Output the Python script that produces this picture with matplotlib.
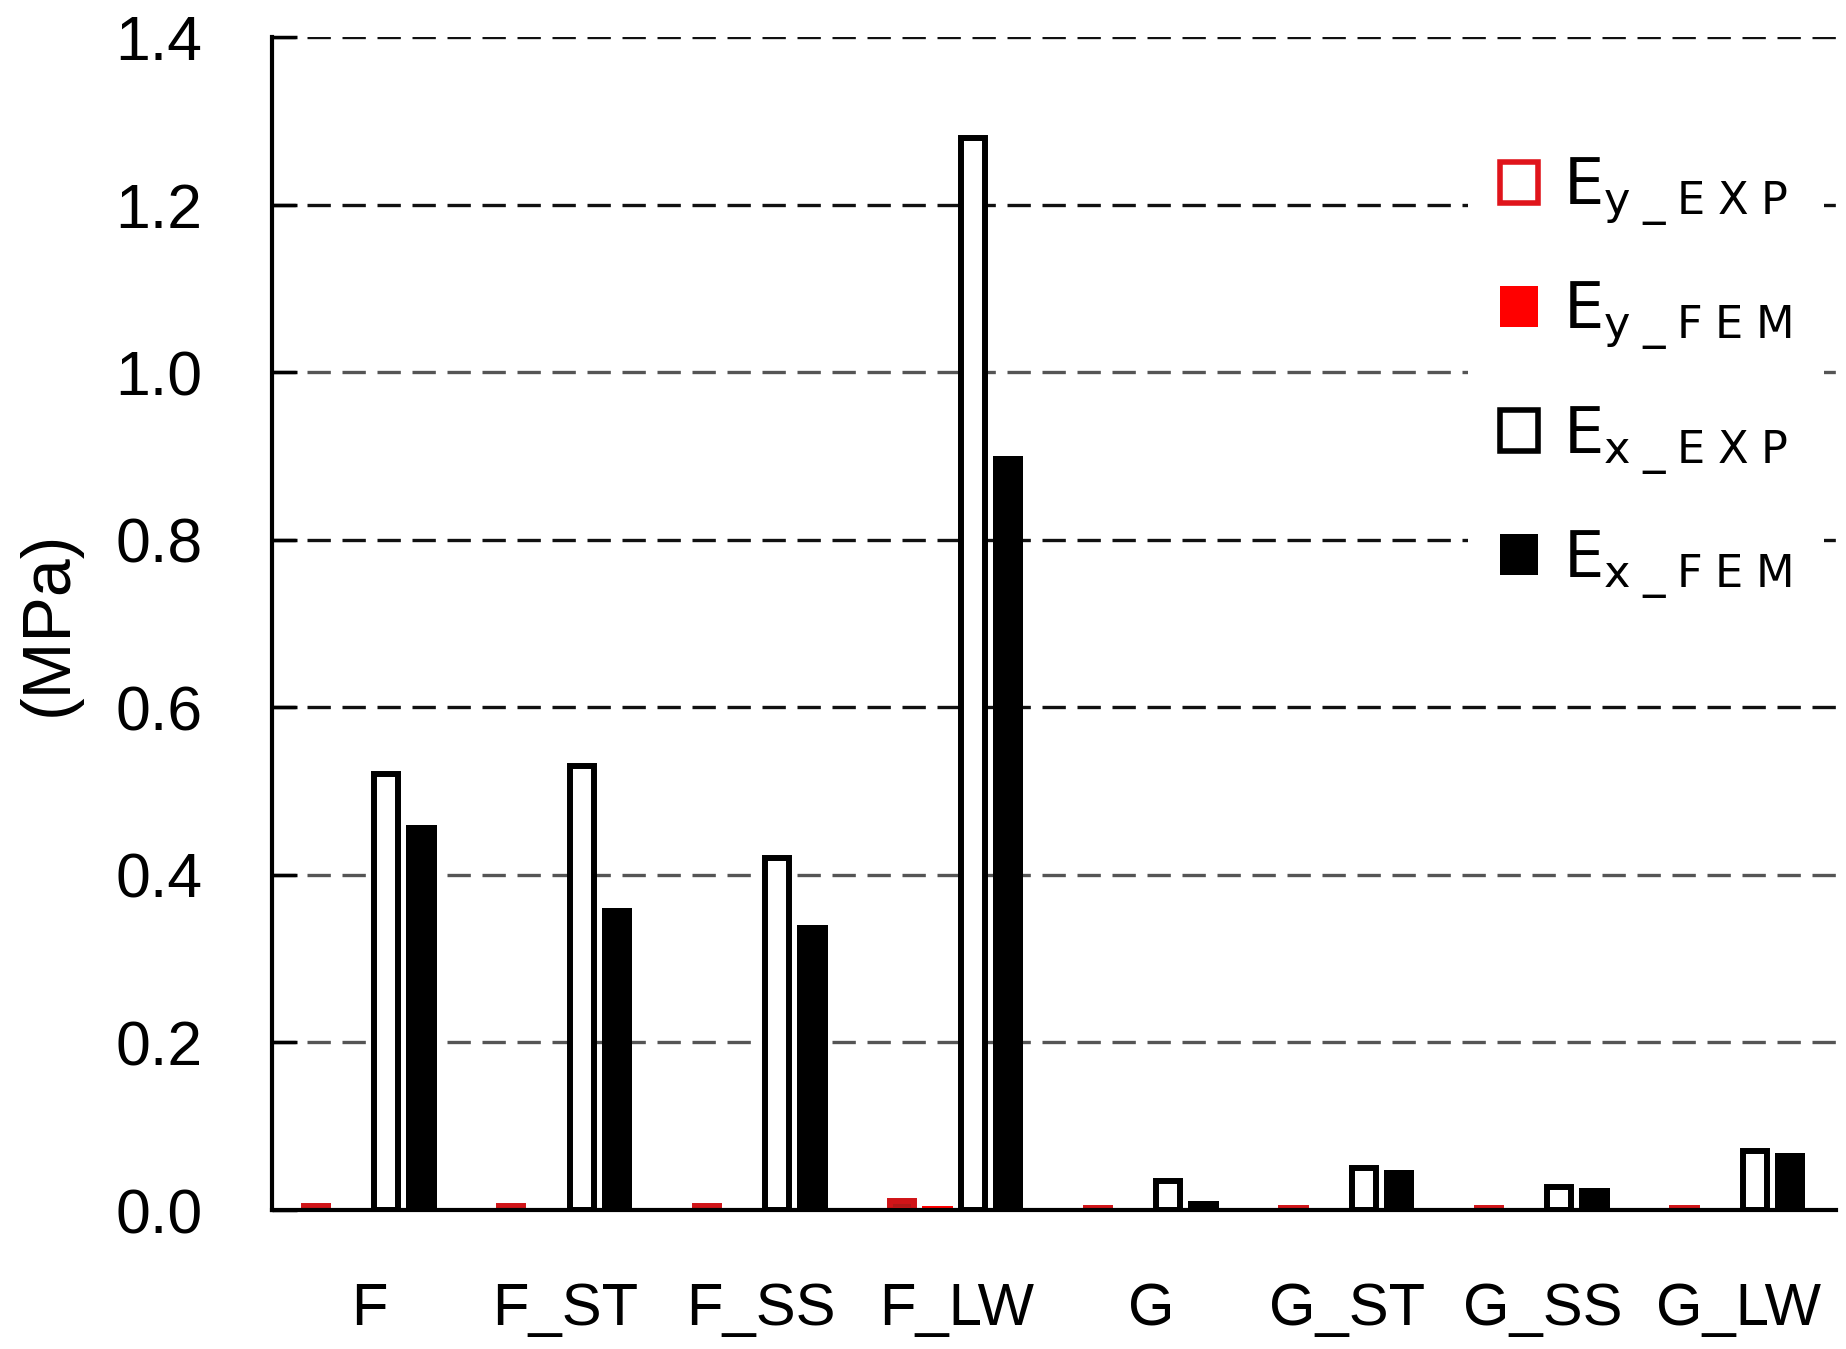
import matplotlib.pyplot as plt
from matplotlib.patches import Patch
import numpy as np

plt.rcParams['font.family'] = ['Liberation Sans', 'DejaVu Sans']
plt.rcParams['mathtext.fontset'] = 'dejavusans'

# data (MPa)
groups = ['F', 'F_ST', 'F_SS', 'F_LW', 'G', 'G_ST', 'G_SS', 'G_LW']
ey_exp = [0.005, 0.005, 0.005, 0.011, 0.002, 0.002, 0.002, 0.002]
ey_fem = [0.0, 0.0, 0.0, 0.005, 0.0, 0.0, 0.0, 0.0]
ex_exp = [0.52, 0.53, 0.42, 1.28, 0.035, 0.05, 0.028, 0.07]
ex_fem = [0.46, 0.36, 0.34, 0.90, 0.011, 0.048, 0.026, 0.068]
y_ticks = [0.0, 0.2, 0.4, 0.6, 0.8, 1.0, 1.2, 1.4]
grid_colors = ['#555555', '#555555', '#111111', '#111111', '#555555', '#111111', '#111111']

fig = plt.figure(figsize=(18.46, 13.49), dpi=100)
ax = fig.add_axes([0.1473, 0.1030, 0.8473, 0.8696])

# dashed gridlines (behind bars)
for yv, c in zip(y_ticks[1:], grid_colors):
    ax.axhline(yv, color=c, linestyle=(0, (7, 3.5)), linewidth=2.4, zorder=0)

x = np.arange(len(groups))
w_open = 0.123
w_fill = 0.155
ax.bar(x - 0.275, ey_exp, w_open, facecolor='#b01818', edgecolor='#d01418', linewidth=4.3, zorder=2)
ax.bar(x - 0.095, ey_fem, w_fill, color='#ff0000', linewidth=0, zorder=2)
ax.bar(x + 0.085, ex_exp, w_open, facecolor='white', edgecolor='black', linewidth=4.3, zorder=2)
ax.bar(x + 0.265, ex_fem, w_fill, color='black', linewidth=0, zorder=2)

ax.set_xlim(-0.5, len(groups) - 0.5)
ax.set_ylim(0, 1.4)
ax.set_yticks(y_ticks)
ax.set_yticklabels(['%.1f' % v for v in y_ticks])
ax.set_xticks(x)
ax.set_xticklabels(groups)

ax.spines['top'].set_visible(False)
ax.spines['right'].set_visible(False)
ax.spines['left'].set_linewidth(3)
ax.spines['bottom'].set_linewidth(3)
ax.tick_params(axis='y', direction='in', length=18, width=2.5, pad=50, labelsize=45)
ax.tick_params(axis='x', length=0, pad=52, labelsize=43)

ax.set_ylabel('(MPa)', fontsize=49)
ax.yaxis.set_label_coords(-0.122, 0.5)

handles = [
    Patch(facecolor='white', edgecolor='#e0141b', linewidth=4),
    Patch(facecolor='#ff0000', edgecolor='none'),
    Patch(facecolor='white', edgecolor='black', linewidth=4),
    Patch(facecolor='black', edgecolor='none'),
]
labels = [r'E$_\mathregular{y\;\_\;E\;X\;P}$', r'E$_\mathregular{y\;\_\;F\;E\;M}$',
          r'E$_\mathregular{x\;\_\;E\;X\;P}$', r'E$_\mathregular{x\;\_\;F\;E\;M}$']
leg = ax.legend(handles, labels, loc='upper left', bbox_to_anchor=(0.795, 0.9085),
                bbox_transform=fig.transFigure, borderaxespad=0, borderpad=0.5,
                handlelength=0.6, handleheight=0.6, handletextpad=0.4,
                labelspacing=0.8, frameon=True, fancybox=False,
                prop={'family': 'DejaVu Sans', 'size': 46})
leg.get_frame().set_facecolor('white')
leg.get_frame().set_edgecolor('none')
leg.get_frame().set_alpha(1)

fig.savefig('out.png', dpi=100)
